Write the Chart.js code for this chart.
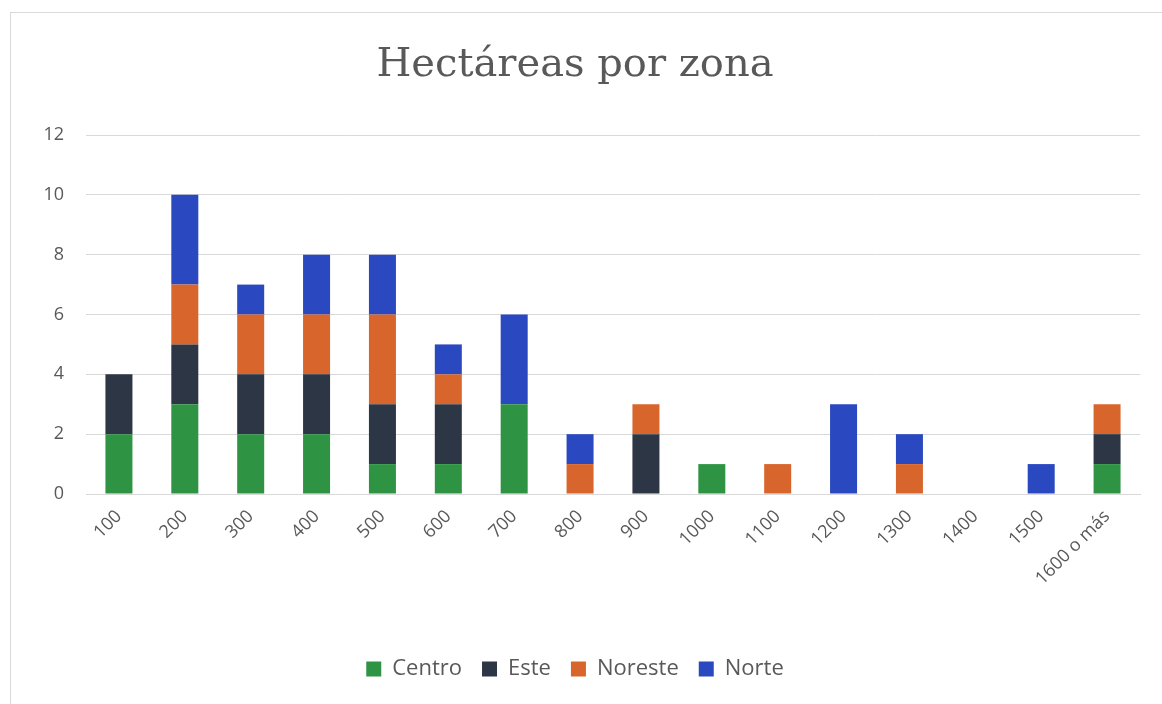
<!DOCTYPE html>
<html>
<head>
<meta charset="utf-8">
<script src="https://cdn.jsdelivr.net/npm/chart.js@4"></script>
<style>
  html, body { margin: 0; padding: 0; background: #fff; }
  #frame { position: absolute; left: 10px; top: 12px; width: 1160px; height: 700px; border: 1px solid #d9d9d9; }
  #wrap { position: absolute; left: 0; top: 0; width: 1162px; height: 704px; }
</style>
</head>
<body>
<div id="frame"></div>
<div id="wrap"><canvas id="chart" width="1162" height="704"></canvas></div>
<script>
// categories (x axis)
const zonas = ["100", "200", "300", "400", "500", "600", "700", "800", "900",
               "1000", "1100", "1200", "1300", "1400", "1500", "1600 o más"];

// series values
const centro  = [2, 3, 2, 2, 1, 1, 3, 0, 0, 1, 0, 0, 0, 0, 0, 1];
const este    = [2, 2, 2, 2, 2, 2, 0, 0, 2, 0, 0, 0, 0, 0, 0, 1];
const noreste = [0, 2, 2, 2, 3, 1, 0, 1, 1, 0, 1, 0, 1, 0, 0, 1];
const norte   = [0, 3, 1, 2, 2, 1, 3, 1, 0, 0, 0, 3, 1, 0, 1, 0];

const yMax = 12;
const yStep = 2;

// make zero values disappear (no empty slivers)
function nz(arr) { return arr.map(v => v === 0 ? null : v); }

const grey = "#595959";
const sans = "'Open Sans', 'Noto Sans', sans-serif";

let ctx = document.getElementById("chart").getContext("2d");
new Chart(ctx,
{
    type: "bar",
    data:
    {
        labels: zonas,
        datasets:
        [
            { label: "Centro",  data: nz(centro),  backgroundColor: "#2e9444" },
            { label: "Este",    data: nz(este),    backgroundColor: "#2d3644" },
            { label: "Noreste", data: nz(noreste), backgroundColor: "#d8652b" },
            { label: "Norte",   data: nz(norte),   backgroundColor: "#2a48c0" }
        ]
    },
    options:
    {
        responsive: false,
        animation: false,
        layout: { padding: { left: 10, right: 22, top: 42, bottom: 14 } },
        datasets: { bar: { barPercentage: 1, categoryPercentage: 0.41, borderWidth: 0 } },
        plugins:
        {
            title:
            {
                display: true,
                text: "Hectáreas por zona",
                color: grey,
                font: { family: "'DejaVu Serif', serif", size: 40, weight: "normal" },
                padding: { top: 0, bottom: 45 }
            },
            legend:
            {
                position: "bottom",
                labels:
                {
                    color: grey,
                    font: { family: sans, size: 22 },
                    boxWidth: 15,
                    boxHeight: 15,
                    padding: 20
                }
            },
            tooltip: { enabled: false }
        },
        scales:
        {
            x:
            {
                stacked: true,
                grid: { display: false },
                border: { color: "#d9d9d9", width: 1 },
                ticks:
                {
                    color: grey,
                    font: { family: sans, size: 18 },
                    minRotation: 45,
                    maxRotation: 45,
                    autoSkip: false,
                    padding: 4
                },
                afterFit: s => { s.height = 144; }
            },
            y:
            {
                stacked: true,
                min: 0,
                max: yMax,
                grid: { color: "#d9d9d9", drawTicks: false },
                border: { display: false },
                ticks:
                {
                    stepSize: yStep,
                    color: grey,
                    font: { family: sans, size: 18 },
                    padding: 22
                },
                afterFit: s => { s.width = 76; }
            }
        }
    }
});
</script>
</body>
</html>
